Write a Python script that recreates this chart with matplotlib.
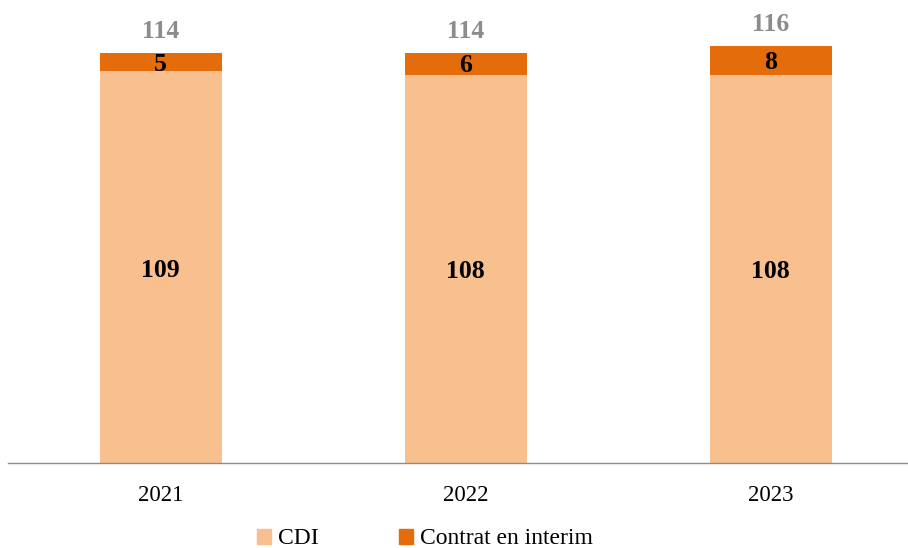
import matplotlib
matplotlib.use("Agg")
import matplotlib.pyplot as plt
from matplotlib.patches import Patch

years = ["2021", "2022", "2023"]
cdi = [109, 108, 108]
interim = [5, 6, 8]
totals = [114, 114, 116]

c_cdi = "#F9C08F"
c_int = "#E46C0A"

plt.rcParams['font.family'] = ['Liberation Serif', 'DejaVu Serif']

W, H = 908, 548
fig = plt.figure(figsize=(W/100, H/100), dpi=100)
ax = fig.add_axes([8/W, 1 - 463/H, 1 - 8/W, 463/H])

x = list(range(len(years)))
bw = 0.40
ax.bar(x, cdi, width=bw, color=c_cdi, zorder=2)
ax.bar(x, interim, width=bw, bottom=cdi, color=c_int, zorder=2)

for i in x:
    ax.annotate(str(cdi[i]), (i, cdi[i] / 2), xytext=(0, -2.2), textcoords='offset points',
                ha='center', va='center', fontsize=18.5, fontweight='bold', color='black')
    ax.annotate(str(interim[i]), (i, cdi[i] + interim[i] / 2), xytext=(0, -1.5),
                textcoords='offset points', ha='center', va='center',
                fontsize=18.5, fontweight='bold', color='black')
    ax.annotate(str(totals[i]), (i, totals[i]), xytext=(0, 15.5), textcoords='offset points',
                ha='center', va='center', fontsize=18.5, fontweight='bold', color='#8C8C8C')

ax.set_xlim(-0.5, 2.45)
ax.set_ylim(0, 463 / 3.596)
ax.set_xticks(x)
ax.set_xticklabels(years, fontsize=16.5)
ax.tick_params(axis='x', length=0, pad=15.5)
ax.set_yticks([])
for s in ['top', 'right', 'left']:
    ax.spines[s].set_visible(False)
ax.spines['bottom'].set_color('#8C8C8C')
ax.spines['bottom'].set_linewidth(1.0)

handles = [Patch(color=c_cdi, label='CDI'), Patch(color=c_int, label='Contrat en interim')]
fig.legend(handles=handles, loc='center', bbox_to_anchor=(425/W, 1 - 539/H), ncol=2,
           frameon=False, fontsize=17, handlelength=0.6, handleheight=0.6,
           handletextpad=0.3, columnspacing=3.4)

fig.savefig("out.png", dpi=100)
